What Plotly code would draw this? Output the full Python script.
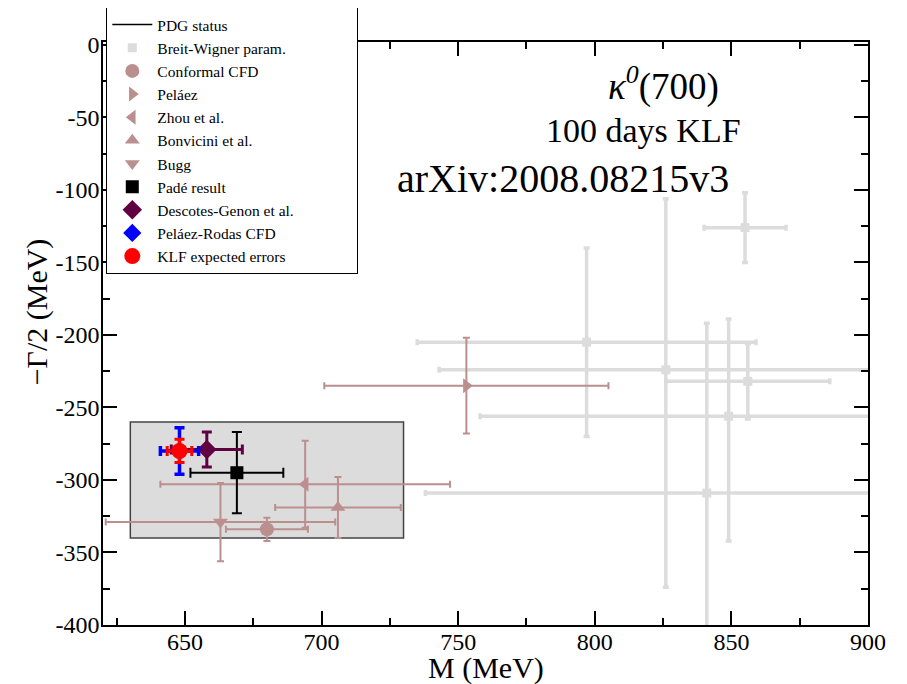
import plotly.graph_objects as go

# ---------------- data ----------------
# Breit-Wigner parametrisations (light grey squares)
bw_m = [855, 797, 826, 856, 849, 841]
bw_g = [-126, -205, -224, -232, -256, -309]
bw_m_err = [15, 62, 83, 30, 91, 103]
bw_g_err_up = [24, 65, 118, 26, 67, 117]
bw_g_err_down = [24, 65, 150, 26, 86, 117]

conformal_m = [680]; conformal_g = [-334]; conformal_m_err = [15]; conformal_g_err = [8]
pelaez_m = [753]; pelaez_g = [-235]; pelaez_m_err = [52]; pelaez_g_err = [33]
zhou_m = [694]; zhou_g = [-303]; zhou_m_err = [53]; zhou_g_err = [30]
bonvicini_m = [706]; bonvicini_g = [-319]; bonvicini_m_err = [23]; bonvicini_g_err = [21]
bugg_m = [663]; bugg_g = [-329]; bugg_m_err = [42]; bugg_g_err = [27]
pade_m = [669]; pade_g = [-295]; pade_m_err = [17]; pade_g_err = [28]
descotes_m = [658]; descotes_g = [-279]; descotes_m_err = [13]; descotes_g_err = [12]
pr_cfd_m = [648]; pr_cfd_g = [-280]; pr_cfd_m_err = [7]; pr_cfd_g_err = [16]
klf_m = [648]; klf_g = [-280]; klf_m_err = [4.5]; klf_g_err = [8]

# PDG box
pdg_m_range = [630, 730]
pdg_g_range = [-340, -260]

x_ticks = [650, 700, 750, 800, 850, 900]
x_ticktext = ["650", "700", "750", "800", "850", "900"]
y_ticks = [0, -50, -100, -150, -200, -250, -300, -350, -400]
y_ticktext = ["0", "-50", "-100", "-150", "-200", "-250", "-300", "-350", "-400"]

SERIF = "Liberation Serif"
ROSY = "#bc8f8f"
GREY = "#dcdcdc"
PAD = "\u00a0" * 15  # widens the legend box like the reference

fig = go.Figure()

# PDG status (legend only, box drawn as a shape)
fig.add_trace(go.Scatter(x=[None], y=[None], mode="lines", name="PDG status",
                         line=dict(color="black", width=1.5)))


def add_point(name, m, g, em, eg, color, symbol, size, thick, cap, egm=None):
    ey = dict(type="data", array=eg, color=color, thickness=thick, width=cap, visible=True)
    if egm is not None:
        ey["symmetric"] = False
        ey["arrayminus"] = egm
    fig.add_trace(go.Scatter(
        x=m, y=g, mode="markers", name=name,
        marker=dict(color=color, symbol=symbol, size=size, line=dict(width=0)),
        error_x=dict(type="data", array=em, color=color, thickness=thick, width=cap, visible=True),
        error_y=ey,
    ))


add_point("Breit-Wigner param.", bw_m, bw_g, bw_m_err, bw_g_err_up, GREY, "square", 9, 3.5, 3,
          egm=bw_g_err_down)
add_point("Conformal CFD", conformal_m, conformal_g, conformal_m_err, conformal_g_err, ROSY, "circle", 14, 2, 3.5)
add_point("Peláez", pelaez_m, pelaez_g, pelaez_m_err, pelaez_g_err, ROSY, "triangle-right", 13, 2, 3.5)
add_point("Zhou et al.", zhou_m, zhou_g, zhou_m_err, zhou_g_err, ROSY, "triangle-left", 13, 2, 3.5)
add_point("Bonvicini et al.", bonvicini_m, bonvicini_g, bonvicini_m_err, bonvicini_g_err, ROSY, "triangle-up", 13, 2, 3.5)
add_point("Bugg", bugg_m, bugg_g, bugg_m_err, bugg_g_err, ROSY, "triangle-down", 13, 2, 3.5)
add_point("Padé result", pade_m, pade_g, pade_m_err, pade_g_err, "black", "square", 13, 2, 5)
add_point("Descotes-Genon et al." + PAD, descotes_m, descotes_g, descotes_m_err, descotes_g_err, "#600040", "diamond", 15, 3, 5)
add_point("Peláez-Rodas CFD", pr_cfd_m, pr_cfd_g, pr_cfd_m_err, pr_cfd_g_err, "#0000ff", "diamond", 14, 3.5, 5)
add_point("KLF expected errors", klf_m, klf_g, klf_m_err, klf_g_err, "#ff0000", "circle", 16, 3, 5)

fig.add_shape(type="rect", xref="x", yref="y",
              x0=pdg_m_range[0], x1=pdg_m_range[1], y0=pdg_g_range[0], y1=pdg_g_range[1],
              fillcolor="#dcdcdc", line=dict(color="#444444", width=1.5), layer="below")

axis_common = dict(showline=True, linecolor="black", linewidth=1.5, mirror="ticks",
                   ticks="inside", ticklen=14, tickwidth=1.5, tickcolor="black",
                   showgrid=False, zeroline=False, automargin=False,
                   tickfont=dict(family=SERIF, size=24, color="black"))

fig.update_xaxes(range=[620, 900], tickvals=x_ticks, ticktext=x_ticktext, ticklabelstandoff=-6,
                 minor=dict(ticks="inside", ticklen=7, tickwidth=1.5, tickcolor="black",
                            tickvals=[625, 675, 725, 775, 825, 875]),
                 **axis_common)
fig.update_yaxes(range=[-400, 2], tickvals=y_ticks, ticktext=y_ticktext, ticklabelstandoff=-3,
                 minor=dict(ticks="inside", ticklen=7, tickwidth=1.5, tickcolor="black",
                            tickvals=[-25, -75, -125, -175, -225, -275, -325, -375]),
                 **axis_common)

fig.add_annotation(text="<i>κ</i><sup><i>0</i></sup>(700)", x=825, y=-27, xref="x", yref="y",
                   showarrow=False, font=dict(family=SERIF, size=37, color="black"))
fig.add_annotation(text="100 days KLF", x=818, y=-59, xref="x", yref="y",
                   showarrow=False, font=dict(family=SERIF, size=34, color="black"))
fig.add_annotation(text="arXiv:2008.08215v3", x=788.5, y=-92, xref="x", yref="y",
                   showarrow=False, font=dict(family=SERIF, size=40, color="black"))

fig.add_annotation(text="M (MeV)", x=0.5, y=-0.073, xref="paper", yref="paper",
                   showarrow=False, yanchor="middle", font=dict(family=SERIF, size=30, color="black"))
fig.add_annotation(text="−Γ/2 (MeV)", x=-0.087, y=0.537, xref="paper", yref="paper", textangle=-90,
                   showarrow=False, xanchor="center", yanchor="middle",
                   font=dict(family=SERIF, size=30, color="black"))

# the page body has an 8 px margin: the figure is shifted by 8 px, margins compensate
fig.update_layout(
    width=899, height=676,
    margin=dict(l=95, r=39, t=34, b=59, autoexpand=False),
    paper_bgcolor="white", plot_bgcolor="white",
    showlegend=True,
    legend=dict(x=0.0043, y=1.06, xanchor="left", yanchor="top",
                bgcolor="white", bordercolor="black", borderwidth=1,
                font=dict(family=SERIF, size=15.5, color="black"),
                itemwidth=40, tracegroupgap=0),
)

fig.write_html("out.html")
